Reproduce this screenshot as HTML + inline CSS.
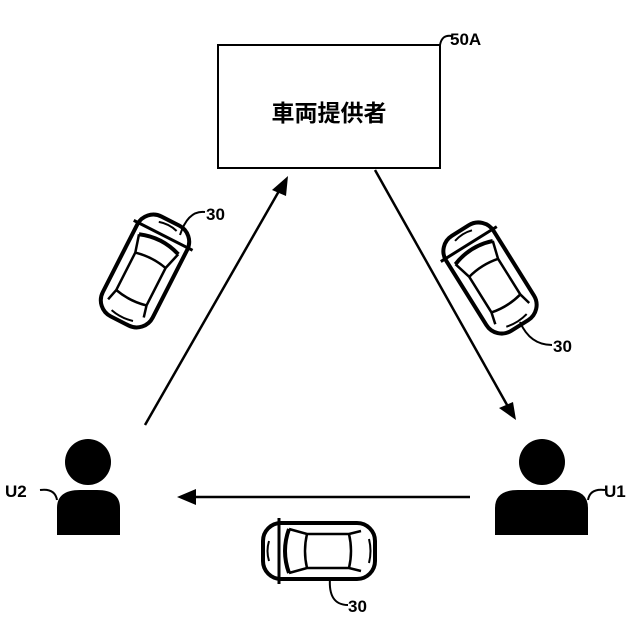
<!DOCTYPE html>
<html><head><meta charset="utf-8"><style>body{margin:0;background:#fff}svg{display:block}</style></head><body>
<svg width="640" height="640" viewBox="0 0 640 640" xmlns="http://www.w3.org/2000/svg" font-family="Liberation Sans, sans-serif">
<defs>
<g id="car">
<rect x="-56" y="-28" width="112" height="56" rx="18" fill="#fff" stroke="#000" stroke-width="4"/>
<path d="M-30,-22 Q-38,0 -30,22" fill="none" stroke="#000" stroke-width="4"/>
<path d="M-30,-22 L-12,-17 L30,-17 L42,-20 M-30,22 L-12,17 L30,17 L42,20" fill="none" stroke="#000" stroke-width="2.5"/>
<path d="M-12,-17 Q-16,0 -12,17 M30,-17 Q34,0 30,17" fill="none" stroke="#000" stroke-width="2.5"/>
<path d="M-50,-10 Q-53,0 -50,10 M50,-12 Q53,0 50,12" fill="none" stroke="#000" stroke-width="2"/>
<path d="M-40,-33 L-40,33" stroke="#000" stroke-width="3"/>
</g>
</defs>
<rect x="218" y="45" width="222" height="123" fill="#fff" stroke="#000" stroke-width="2"/>
<text x="329" y="121" font-size="23" font-weight="bold" text-anchor="middle" font-family="Liberation Sans, Noto Sans CJK JP, sans-serif">車両提供者</text>
<path d="M440,45 Q442,34 452,36" fill="none" stroke="#000" stroke-width="2"/>
<text x="450" y="45" font-size="17" font-weight="bold">50A</text>
<path d="M145,425 L283,184" stroke="#000" stroke-width="2.5"/>
<path d="M288,176 L272,190 L286,196z"/>
<path d="M375,170 L511,412" stroke="#000" stroke-width="2.5"/>
<path d="M516,420 L499,408 L513,402z"/>
<path d="M470,497 L190,497" stroke="#000" stroke-width="2.5"/>
<path d="M177,497 L196,489 L196,505z"/>
<use href="#car" transform="translate(145,271) rotate(117)"/>
<use href="#car" transform="translate(490,278) rotate(58)"/>
<use href="#car" transform="translate(319,551)"/>
<path d="M180,235 Q188,210 205,212" fill="none" stroke="#000" stroke-width="2"/>
<text x="206" y="220" font-size="17" font-weight="bold">30</text>
<path d="M520,322 Q530,345 552,345" fill="none" stroke="#000" stroke-width="2"/>
<text x="553" y="352" font-size="17" font-weight="bold">30</text>
<path d="M330,578 Q328,605 348,605" fill="none" stroke="#000" stroke-width="2"/>
<text x="348" y="612" font-size="17" font-weight="bold">30</text>
<circle cx="88" cy="462" r="23"/>
<path d="M57,535 L57,508 Q57,490 80,490 L97,490 Q120,490 120,508 L120,535z"/>
<circle cx="542" cy="462" r="23"/>
<path d="M495,535 L495,508 Q495,490 518,490 L566,490 Q588,490 588,508 L588,535z"/>
<path d="M57,500 Q55,488 40,490" fill="none" stroke="#000" stroke-width="2"/>
<text x="5" y="497" font-size="17" font-weight="bold">U2</text>
<path d="M588,500 Q590,488 605,490" fill="none" stroke="#000" stroke-width="2"/>
<text x="604" y="497" font-size="17" font-weight="bold">U1</text>
</svg>
</body></html>
